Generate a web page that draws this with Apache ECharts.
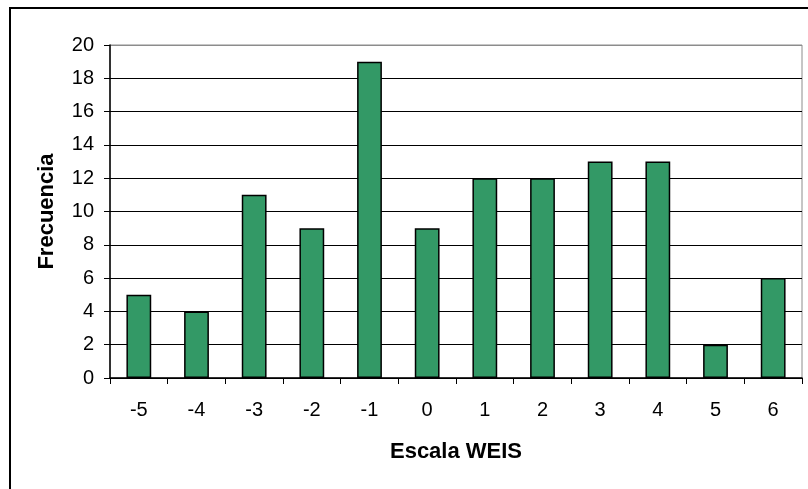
<!DOCTYPE html>
<html><head><meta charset="utf-8">
<script src="https://cdn.jsdelivr.net/npm/echarts@6/dist/echarts.min.js"></script>
<style>html,body{margin:0;padding:0;background:#fff}#c{width:808px;height:489px}</style>
</head><body><div id="c"></div>
<script>
const categories = ['-5','-4','-3','-2','-1','0','1','2','3','4','5','6'];
const frecuencia = [5,4,11,9,19,9,12,12,13,13,2,6];
const yTicks = [0,2,4,6,8,10,12,14,16,18,20];

const chart = echarts.init(document.getElementById('c'), null, {renderer:'canvas'});
const font = '"Liberation Sans", Arial, sans-serif';
const gridColors = yTicks.map((v,i)=> i===yTicks.length-1 ? '#8c8c8c' : '#000');
chart.setOption({
  animation:false,
  backgroundColor:'#fff',
  graphic:[{type:'rect',shape:{x:10,y:8,width:820,height:520},style:{fill:'none',stroke:'#000',lineWidth:2},silent:true}],
  grid:{left:110,top:45,width:692,height:333,show:true,borderColor:'#8c8c8c',borderWidth:1,backgroundColor:'transparent'},
  xAxis:{type:'category',data:categories,boundaryGap:true,
    name:'Escala WEIS',nameLocation:'middle',nameGap:63,
    nameTextStyle:{fontFamily:font,fontSize:22,fontWeight:'bold',color:'#000'},
    axisLine:{lineStyle:{color:'#000',width:1.5}},
    axisTick:{show:true,alignWithLabel:false,length:6,lineStyle:{color:'#000'}},
    axisLabel:{fontFamily:font,fontSize:20,color:'#000',margin:22},
    splitLine:{show:false}},
  yAxis:{type:'value',min:0,max:20,interval:2,
    name:'Frecuencia',nameLocation:'middle',nameGap:52,nameRotate:90,
    nameTextStyle:{fontFamily:font,fontSize:22,fontWeight:'bold',color:'#000'},
    axisLine:{show:true,lineStyle:{color:'#000',width:1.5}},
    axisTick:{show:true,length:6,lineStyle:{color:'#000'}},
    axisLabel:{fontFamily:font,fontSize:20,color:'#000',margin:16},
    splitLine:{show:true,lineStyle:{color:gridColors,width:1}}},
  series:[{type:'bar',data:frecuencia,barCategoryGap:'57%',
    itemStyle:{color:'#339966',borderColor:'#000',borderWidth:1.5}}]
});
</script></body></html>
